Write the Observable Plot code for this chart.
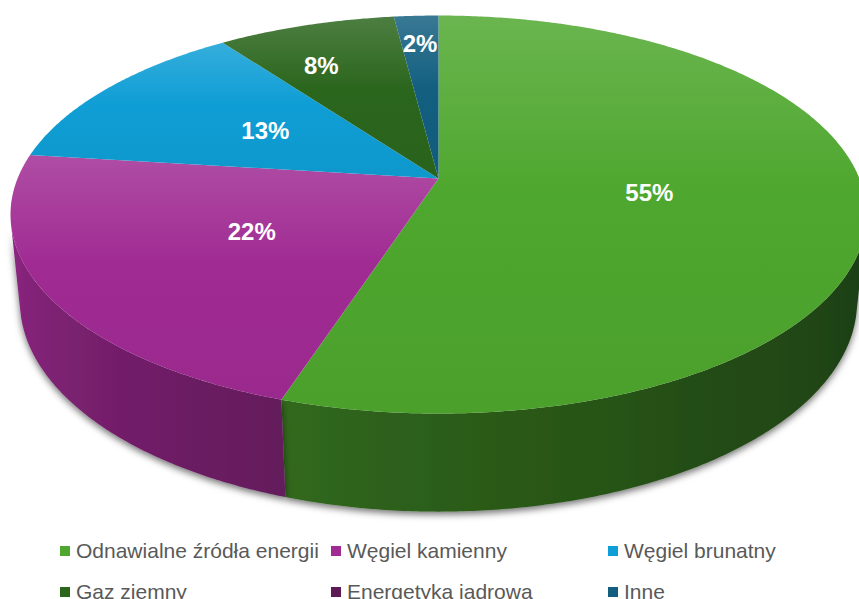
<!DOCTYPE html>
<html><head><meta charset="utf-8">
<script src="https://cdn.jsdelivr.net/npm/d3@7"></script>
<script src="https://cdn.jsdelivr.net/npm/@observablehq/plot@0.6"></script>
<style>
html,body{margin:0;padding:0;background:#fff;overflow:hidden;width:859px;height:599px}
#chart svg{display:block}
#legend{display:grid;grid-template-columns:271px 277px 240px;padding-left:60px;margin-top:0;font-family:"Liberation Sans Narrow","Arial Narrow",sans-serif;font-size:21px;color:#595959;}
.item{display:flex;align-items:center;height:41px;white-space:nowrap}
.sw{width:10px;height:10px;margin-right:6px;flex:none}
</style></head><body><div id="chart"></div><div id="legend"></div>
<script>
// ---- data ----
const categories = ["Odnawialne źródła energii", "Węgiel kamienny", "Węgiel brunatny", "Gaz ziemny", "Energetyka jądrowa", "Inne"];
const shares = [55, 22, 13, 8, 0, 2];
const palette = ["#4EA72E", "#A02B93", "#0F9ED5", "#2B661D", "#5E1A55", "#135F80"];

// ---- layout ----
const W = 859, H = 530;
const cam = {f: 2068, D: 4.913, tilt: Math.asin(0.4573), cx: 438, cy: 178, thick: 0.234};
const sa = Math.sin(cam.tilt), ca = Math.cos(cam.tilt);
const rad = Math.PI / 180;
function project(X, Y, Z) {
  const d = cam.D - Y * sa + Z * ca;
  return [cam.cx + cam.f * X / d, cam.cy - cam.f * (Y * ca + Z * sa) / d];
}
function rim(phi, Y, r = 1) { return project(r * Math.sin(phi * rad), Y, r * Math.cos(phi * rad)); }
function arcPts(a0, a1, Y) {
  const n = Math.max(2, Math.ceil((a1 - a0) / 0.5));
  return d3.range(n + 1).map(k => rim(a0 + (a1 - a0) * k / n, Y));
}
const total = d3.sum(shares);
let acc = 0;
const slices = categories.map((c, i) => {
  const a0 = acc / total * 360; acc += shares[i]; const a1 = acc / total * 360;
  return {c, i, a0, a1, share: shares[i]};
}).filter(s => s.share > 0);

// visible outer wall range
const vis0 = Math.acos(-1 / (cam.D * ca)) / rad, vis1 = 360 - vis0;
const light = phi => 0.38 + 0.49 * Math.pow(Math.max(0, Math.min(1, (phi - vis0) / (vis1 - vis0 - 3))), 1.5);

const marks = [];
const wallInfo = [];
for (const s of slices) {
  const lo = Math.max(s.a0, vis0), hi = Math.min(s.a1, vis1);
  if (lo < hi) {
    const pts = arcPts(lo, hi, 0).concat(arcPts(lo, hi, -cam.thick).reverse());
    const data = pts.map(([x, y]) => ({x, y}));
    wallInfo.push({i: s.i, lo, hi, x0: d3.min(data, d => d.x), x1: d3.max(data, d => d.x)});
    marks.push(Plot.line(data, {x: "x", y: "y", fill: `url(#wall${s.i})`, stroke: "none", className: "wall"}));
  }
}
for (const s of slices) {
  const pts = [project(0, 0, 0), ...arcPts(s.a0, s.a1, 0), project(0, 0, 0)];
  marks.push(Plot.line(pts.map(([x, y]) => ({x, y})), {x: "x", y: "y", fill: `url(#top${s.i})`, stroke: "none"}));
}
const labelData = slices.map(s => {
  const p = s.share / total;
  const r = p >= 0.1 ? 0.5 : (p > 0.05 ? 0.72 : 0.8);
  const [x, y] = rim((s.a0 + s.a1) / 2 - (p > 0.05 && p < 0.1 ? 4 : 0), 0, r);
  return {x, y, t: s.share + "%"};
});
marks.push(Plot.text(labelData, {x: "x", y: "y", text: "t", fill: "white", fontSize: 24, fontWeight: "bold", fontFamily: "Liberation Sans, Arial, sans-serif"}));

const plot = Plot.plot({
  width: W, height: H, margin: 0,
  x: {domain: [0, W], range: [0, W], axis: null},
  y: {domain: [0, H], range: [0, H], axis: null},
  style: {background: "white", overflow: "hidden"},
  marks
});
document.getElementById("chart").appendChild(plot);

// gradients & shadow
const svg = d3.select(plot);
const defs = svg.insert("defs", ":first-child");
for (const s of slices) {
  const base = d3.color(palette[s.i]);
  const g = defs.append("linearGradient").attr("id", `top${s.i}`).attr("x1", 0).attr("y1", 0).attr("x2", 0).attr("y2", 1);
  const lt = d3.interpolateRgb(base, "#ffffff")(0.16);
  g.append("stop").attr("offset", 0).attr("stop-color", lt);
  g.append("stop").attr("offset", 0.45).attr("stop-color", base.formatHex());
  g.append("stop").attr("offset", 1).attr("stop-color", d3.interpolateRgb(base, "#000")(0.04));
}
for (const w of wallInfo) {
  const base = d3.rgb(palette[w.i]);
  const g = defs.append("linearGradient").attr("id", `wall${w.i}`).attr("gradientUnits", "userSpaceOnUse")
    .attr("x1", w.x0).attr("y1", 0).attr("x2", w.x1).attr("y2", 0);
  const n = 16;
  const stops = d3.range(n + 1).map(k => {
    const phi = w.lo + (w.hi - w.lo) * k / n;
    const [x] = rim(phi, 0);
    const b = light(phi);
    return {o: (x - w.x0) / (w.x1 - w.x0), c: d3.rgb(base.r * b, base.g * b, base.b * b).formatHex()};
  }).sort((a, b) => a.o - b.o);
  for (const st of stops) g.append("stop").attr("offset", Math.max(0, Math.min(1, st.o))).attr("stop-color", st.c);
}
const f = defs.append("filter").attr("id", "shadow").attr("x", "-10%").attr("y", "-10%").attr("width", "120%").attr("height", "130%");
f.append("feDropShadow").attr("dx", 0).attr("dy", 3).attr("stdDeviation", 3.5).attr("flood-color", "#000").attr("flood-opacity", 0.55);
svg.selectAll("g.wall").attr("filter", "url(#shadow)");

// legend
const legend = d3.select("#legend");
categories.forEach((c, i) => {
  const it = legend.append("div").attr("class", "item");
  it.append("span").attr("class", "sw").style("background", palette[i]);
  it.append("span").text(c);
});
</script>
</body></html>
